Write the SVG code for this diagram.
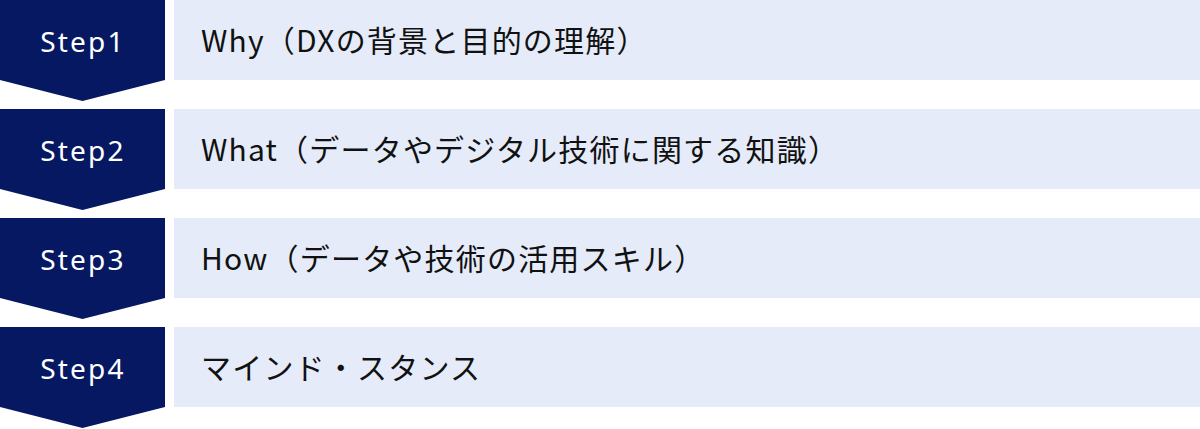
<svg xmlns="http://www.w3.org/2000/svg" width="1200" height="429" viewBox="0 0 1200 429">
<style>
.chev{fill:#061862}
.box{fill:#E5EBF9}
.step{font-family:"Noto Sans","Noto Sans CJK JP",sans-serif;font-size:28px;fill:#ffffff;letter-spacing:2.2px;text-anchor:middle}
.lbl{font-family:"Noto Sans CJK JP","Noto Sans",sans-serif;font-size:30px;fill:#111111;letter-spacing:1.2px}
</style>
<rect width="1200" height="429" fill="#ffffff"/>
<g id="step1">
<polygon class="chev" points="0,0 165,0 165,80 82.5,101 0,80"/>
<text class="step" x="83" y="52">Step1</text>
<rect class="box" x="174" y="0" width="1026" height="80"/>
<text class="lbl" x="201" y="52">Why（DXの背景と目的の理解）</text>
</g>
<g id="step2">
<polygon class="chev" points="0,109 165,109 165,189 82.5,210 0,189"/>
<text class="step" x="83" y="161">Step2</text>
<rect class="box" x="174" y="109" width="1026" height="80"/>
<text class="lbl" x="201" y="161">What（データやデジタル技術に関する知識）</text>
</g>
<g id="step3">
<polygon class="chev" points="0,218 165,218 165,298 82.5,319 0,298"/>
<text class="step" x="83" y="270">Step3</text>
<rect class="box" x="174" y="218" width="1026" height="80"/>
<text class="lbl" x="201" y="270">How（データや技術の活用スキル）</text>
</g>
<g id="step4">
<polygon class="chev" points="0,327 165,327 165,407 82.5,428 0,407"/>
<text class="step" x="83" y="379">Step4</text>
<rect class="box" x="174" y="327" width="1026" height="80"/>
<text class="lbl" x="201" y="379">マインド・スタンス</text>
</g>
<g id="connectors"></g>
</svg>
